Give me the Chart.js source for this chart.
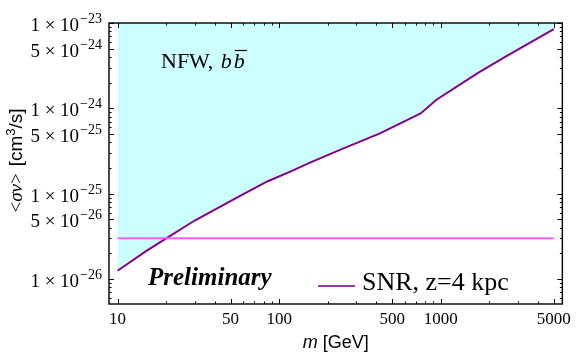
<!DOCTYPE html>
<html>
<head>
<meta charset="utf-8">
<script src="https://cdn.jsdelivr.net/npm/chart.js@4.4.1/dist/chart.umd.min.js"></script>
<style>
  html, body { margin: 0; padding: 0; background: #fff; }
  #wrap { position: relative; width: 576px; height: 355px; }
</style>
</head>
<body>
<div id="wrap"><canvas id="chart"></canvas></div>
<script>
// Upper limit curve (NFW, b bbar)
const massGeV = [10, 15, 20, 30, 40, 60, 85, 120, 150, 250, 420, 750, 940, 1700, 2500, 5000];
const sigmaV  = [1.25e-26, 2.12e-26, 3.0e-26, 4.85e-26, 6.5e-26, 9.9e-26, 1.4e-25, 1.85e-25,
                 2.25e-25, 3.4e-25, 5.1e-25, 8.7e-25, 1.26e-24, 2.6e-24, 4.0e-24, 8.5e-24];

// Horizontal reference line
const refMass   = [10, 5000];
const refSigmaV = [3.0e-26, 3.0e-26];

// Ticks
const xTickVals  = [10, 50, 100, 500, 1000, 5000];
const xMinorVals = [20, 30, 40, 60, 70, 80, 90, 200, 300, 400, 600, 700, 800, 900,
                    2000, 3000, 4000];
const yTickVals  = [1e-26, 5e-26, 1e-25, 5e-25, 1e-24, 5e-24, 1e-23];
const yMinorVals = [6e-27, 7e-27, 8e-27, 9e-27, 2e-26, 3e-26, 4e-26, 6e-26, 7e-26, 8e-26, 9e-26,
                    2e-25, 3e-25, 4e-25, 6e-25, 7e-25, 8e-25, 9e-25,
                    2e-24, 3e-24, 4e-24, 6e-24, 7e-24, 8e-24, 9e-24];

const SERIF = '"Liberation Serif", "Times New Roman", serif';
const SANS  = '"Liberation Sans", Arial, sans-serif';

const COL_CURVE  = '#870087';
const COL_REF    = '#ff5cff';
const COL_FILL   = '#ccffff';
const COL_LEGEND = '#9b3aa8';

// ── helpers ─────────────────────────────────────────────────────────────────
function runsWidth(ctx, runs) {
  let w = 0;
  runs.forEach(r => { ctx.font = r.font; w += ctx.measureText(r.text).width + (r.gap || 0); });
  return w;
}
function drawRuns(ctx, runs, x, y) {
  let cx = x;
  runs.forEach(r => {
    ctx.font = r.font;
    ctx.fillText(r.text, cx, y + (r.dy || 0));
    cx += ctx.measureText(r.text).width + (r.gap || 0);
  });
  return cx;
}

// Frame, inward ticks, y tick labels and text annotations
const framePlugin = {
  id: 'frame',
  afterDraw(chart) {
    const { ctx, chartArea: a, scales: { x, y } } = chart;
    ctx.save();
    ctx.strokeStyle = '#000';
    ctx.lineWidth = 1;
    const seg = (x1, y1, x2, y2) => { ctx.beginPath(); ctx.moveTo(x1, y1); ctx.lineTo(x2, y2); ctx.stroke(); };

    const xt = (vals, len) => vals.forEach(v => {
      const px = Math.round(x.getPixelForValue(v)) + 0.5;
      seg(px, a.bottom, px, a.bottom - len);
      seg(px, a.top, px, a.top + len);
    });
    const yt = (vals, len) => vals.forEach(v => {
      const py = Math.round(y.getPixelForValue(v)) + 0.5;
      seg(a.left, py, a.left + len, py);
      seg(a.right, py, a.right - len, py);
    });
    xt(xTickVals, 5); xt(xMinorVals, 2.5);
    yt(yTickVals, 5); yt(yMinorVals, 2.5);

    ctx.lineWidth = 1.4;
    ctx.strokeRect(a.left, a.top, a.right - a.left, a.bottom - a.top);

    // y tick labels: "m × 10^e"
    ctx.fillStyle = '#000';
    ctx.textBaseline = 'alphabetic';
    ctx.textAlign = 'left';
    yTickVals.forEach(v => {
      const e = Math.floor(Math.log10(v) + 1e-9);
      const m = Math.round(v / Math.pow(10, e));
      const runs = [
        { text: m + ' \u00d7 10', font: '19px ' + SERIF, gap: 1 },
        { text: '\u2212' + (-e), font: '14px ' + SERIF, dy: -8 }
      ];
      const py = y.getPixelForValue(v);
      const w = runsWidth(ctx, runs);
      drawRuns(ctx, runs, 102 - w, py + 8);
    });

    // x axis title
    const xTitle = [
      { text: 'm', font: 'italic 18px ' + SANS, gap: 5 },
      { text: '[GeV]', font: '18px ' + SANS }
    ];
    const xw = runsWidth(ctx, xTitle);
    drawRuns(ctx, xTitle, (a.left + a.right) / 2 - xw / 2, 348);

    // y axis title (rotated)
    const yTitle = [
      { text: '<', font: '19px ' + SERIF },
      { text: '\u03c3v', font: 'italic 19px ' + SERIF },
      { text: '>', font: '19px ' + SERIF, gap: 7 },
      { text: '[cm', font: '19px ' + SANS },
      { text: '3', font: '13px ' + SANS, dy: -7 },
      { text: '/s]', font: '19px ' + SANS }
    ];
    ctx.save();
    ctx.translate(22, (a.top + a.bottom) / 2 - 3);
    ctx.rotate(-Math.PI / 2);
    const yw = runsWidth(ctx, yTitle);
    drawRuns(ctx, yTitle, -yw / 2, 0);
    ctx.restore();

    // NFW, b bbar
    const nx = drawRuns(ctx, [{ text: 'NFW, ', font: '22px ' + SERIF }], 161, 68);
    const bx = drawRuns(ctx, [{ text: 'b', font: 'italic 22px ' + SERIF, gap: 2 }], nx + 2, 68);
    ctx.font = 'italic 22px ' + SERIF;
    const bw = ctx.measureText('b').width;
    ctx.fillText('b', bx, 68);
    ctx.lineWidth = 1.2;
    seg(bx + 1, 50.5, bx + bw + 2, 50.5);

    // Preliminary
    ctx.font = 'italic bold 25px ' + SERIF;
    ctx.fillText('Preliminary', 148, 285);

    // legend entry
    ctx.strokeStyle = COL_LEGEND;
    ctx.lineWidth = 2;
    seg(318, 286, 355, 286);
    ctx.font = '26px ' + SERIF;
    ctx.fillText('SNR, z=4 kpc', 362, 290);

    ctx.restore();
  }
};

new Chart(document.getElementById('chart'), {
  type: 'line',
  data: {
    datasets: [
      {
        label: 'SNR, z=4 kpc ref',
        data: refMass.map((m, i) => ({ x: m, y: refSigmaV[i] })),
        borderColor: COL_REF,
        borderWidth: 2,
        pointRadius: 0,
        fill: false
      },
      {
        label: 'SNR, z=4 kpc',
        data: massGeV.map((m, i) => ({ x: m, y: sigmaV[i] })),
        borderColor: COL_CURVE,
        backgroundColor: COL_FILL,
        borderWidth: 2,
        pointRadius: 0,
        fill: 'end',
        tension: 0
      }
    ]
  },
  options: {
    responsive: true,
    maintainAspectRatio: false,
    animation: false,
    layout: { padding: { top: 23, right: 12, left: 0, bottom: 0 } },
    plugins: {
      legend: { display: false },
      tooltip: { enabled: false },
      filler: { drawTime: 'beforeDatasetsDraw' }
    },
    scales: {
      x: {
        type: 'logarithmic',
        min: 8.85,
        max: 5650,
        afterFit: s => { s.height = 51; },
        afterBuildTicks: s => { s.ticks = xTickVals.map(v => ({ value: v })); },
        grid: { display: false, drawTicks: false },
        border: { display: false },
        ticks: {
          autoSkip: false,
          maxRotation: 0,
          padding: 5,
          color: '#000',
          font: { family: SERIF, size: 17 },
          callback: v => String(v)
        }
      },
      y: {
        type: 'logarithmic',
        min: 5.1e-27,
        max: 1e-23,
        afterFit: s => { s.width = 109; },
        grid: { display: false, drawTicks: false },
        border: { display: false },
        ticks: { display: false }
      }
    }
  },
  plugins: [framePlugin]
});
</script>
</body>
</html>
